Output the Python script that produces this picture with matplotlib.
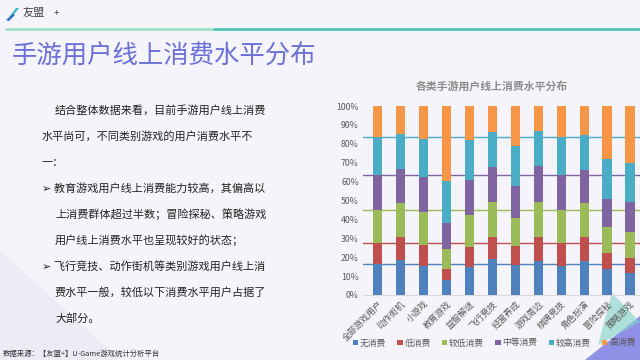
import matplotlib
matplotlib.use('Agg')
import matplotlib.pyplot as plt
from matplotlib.patches import Polygon
import numpy as np

plt.rcParams['font.family'] = ['Noto Sans CJK SC', 'DejaVu Sans']

# data (percent of users per game category)
categories = ['全部游戏用户', '动作街机', '小游戏', '教育游戏', '益智解谜', '飞行竞技',
              '经营养成', '游戏周边', '棋牌竞技', '角色扮演', '冒险探秘', '策略游戏']
series_names = ['无消费', '低消费', '较低消费', '中等消费', '较高消费', '高消费']
no_spend = [16.2, 18.5, 15.5, 7.9, 14.6, 18.9, 15.9, 18.2, 15.3, 18.2, 13.6, 11.5]
low = [11.3, 12.0, 11.0, 5.7, 10.6, 12.0, 10.0, 12.3, 12.0, 12.3, 8.6, 7.9]
lower_mid = [17.5, 18.0, 17.2, 10.6, 17.1, 18.5, 14.8, 18.9, 17.7, 18.0, 13.6, 14.1]
mid = [18.3, 18.2, 18.6, 13.7, 18.5, 18.3, 17.1, 18.9, 18.3, 17.6, 15.2, 15.5]
upper_mid = [20.1, 18.5, 20.2, 22.6, 21.0, 18.5, 21.0, 18.7, 20.5, 18.6, 20.8, 21.0]
high = [16.6, 14.8, 17.5, 39.5, 18.2, 13.8, 21.2, 13.0, 16.2, 15.3, 28.2, 30.0]
colors = ['#4F81BD', '#C0504D', '#9BBB59', '#8064A2', '#4BACC6', '#F79646']

text_lines = [
    (55, '结合整体数据来看，目前手游用户线上消费'),
    (42, '水平尚可，不同类别游戏的用户消费水平不'),
    (42, '一：'),
    (42, '➢ 教育游戏用户线上消费能力较高，其偏高以'),
    (55, '上消费群体超过半数；冒险探秘、策略游戏'),
    (55, '用户线上消费水平也呈现较好的状态；'),
    (42, '➢ 飞行竞技、动作街机等类别游戏用户线上消'),
    (55, '费水平一般，较低以下消费水平用户占据了'),
    (55, '大部分。'),
]

W, H = 640, 360
fig = plt.figure(figsize=(6.4, 3.6), dpi=100)
fig.patch.set_facecolor('#f4f4fa')

# background decoration
bg = fig.add_axes([0, 0, 1, 1])
bg.set_xlim(0, W)
bg.set_ylim(H, 0)
bg.axis('off')
bg.add_patch(Polygon([(0, 250), (0, 360), (120, 360)], closed=True, color='#ececf6', lw=0))
bg.add_patch(Polygon([(585, 360), (640, 316), (640, 360)], closed=True, color='#8f90e6', lw=0))
bg.add_patch(Polygon([(612, 293), (598, 345), (640, 322)], closed=True, color='#7fd3c6', lw=0, alpha=0.6))
# logo
bg.add_patch(Polygon([(9, 17), (16, 8), (19, 8), (12, 17)], closed=True, color='#3fb8c8', lw=0))
bg.add_patch(Polygon([(6, 20), (13, 14), (15, 15), (9, 21)], closed=True, color='#2f6fc0', lw=0))
bg.text(23, 13, '友盟', fontsize=8, color='#444444', va='center', ha='left')
bg.text(54, 13, '+', fontsize=7, color='#444444', va='center', ha='left')
bg.plot([5, 213], [28.5, 28.5], color='#9fe3c8', lw=2, solid_capstyle='butt')
bg.plot([213, 640], [28.5, 28.5], color='#4ec4b6', lw=2, solid_capstyle='butt')
bg.text(12, 57, '手游用户线上消费水平分布', fontsize=18.3, color='#6b70d6', va='center', ha='left')

for i, (x, line) in enumerate(text_lines):
    bg.text(x, 110.5 + i * 26.0, line, fontsize=8.0, color='#222222', va='center', ha='left')

bg.text(3, 354, '数据来源：【友盟+】U-Game游戏统计分析平台', fontsize=5.3, color='#333333',
        va='center', ha='left')
bg.text(492, 86, '各类手游用户线上消费水平分布', fontsize=7.8, color='#8c8c8c',
        fontweight='bold', va='center', ha='center')

# chart
ax = fig.add_axes([363 / W, 1 - 295 / H, (W - 363) / W, (295 - 106) / H])
ax.patch.set_alpha(0)
x = np.arange(len(categories))
all_series = [no_spend, low, lower_mid, mid, upper_mid, high]
bottom = np.zeros(len(categories))
for name, vals, c in zip(series_names, all_series, colors):
    ax.bar(x, vals, 0.4, bottom=bottom, color=c, label=name, zorder=3)
    bottom += np.array(vals)

# reference lines at the all-users stack levels
level = 0
for vals, c in zip(all_series[:-1], colors):
    level += vals[0]
    ax.axhline(level, color=c, lw=1, zorder=2)

ax.set_xlim(-0.65, 11.44)
ax.set_ylim(0, 100)
ax.set_yticks(np.arange(0, 101, 10))
ax.set_yticklabels([f'{v}%' for v in range(0, 101, 10)], fontsize=6.3, color='#595959')
ax.set_xticks(x)
ax.set_xticklabels(categories, rotation=45, ha='right', rotation_mode='anchor',
                   fontsize=6.3, color='#595959')
ax.tick_params(length=0, pad=3)
for s in ['top', 'right', 'left']:
    ax.spines[s].set_visible(False)
ax.spines['bottom'].set_color('#d9d9d9')

fig.legend(loc='center', bbox_to_anchor=(494 / W, 1 - 343 / H), ncol=6, frameon=False,
           fontsize=6.3, handlelength=0.6, handleheight=0.6, handletextpad=0.2,
           columnspacing=1.3, labelcolor='#595959')

fig.savefig('out.png', dpi=100, facecolor=fig.get_facecolor())
